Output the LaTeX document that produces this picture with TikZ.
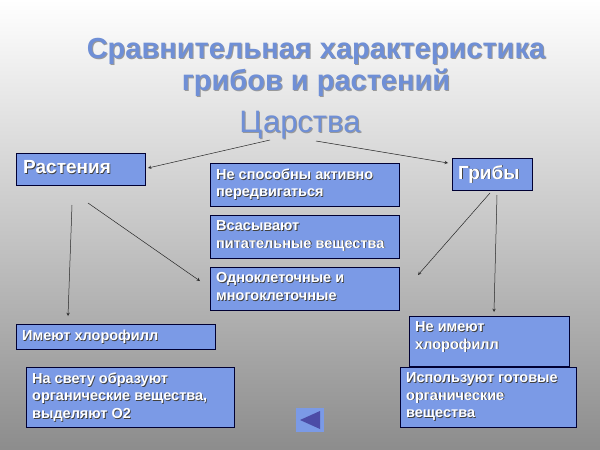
\documentclass[tikz,border=0pt]{standalone}
\usepackage{fontspec}
\setmainfont{Liberation Sans}
\begin{document}
\begin{tikzpicture}[x=1pt,y=-1pt,
  box/.style={draw=black!80!blue,line width=0.8pt,fill=boxc},
  arr/.style={-stealth,line width=0.5pt,black!85},
  ttl/.style={text=titc,font=\bfseries\fontsize{29}{32}\selectfont,align=center}]
\definecolor{boxc}{HTML}{7B9AE6}
\definecolor{titc}{HTML}{6F8FD6}
\useasboundingbox (0,0) rectangle (600,450);
\shade[top color=white,bottom color=black!45,middle color=black!22] (0,0) rectangle (600,450);
\newcommand{\bx}[6]{%
  \draw[box] (#2,#3) rectangle (#4,#5);
  \node[anchor=north west,inner sep=0pt,align=left,font=\bfseries\fontsize{14.5}{17.5}\selectfont,text=black!75] at (#2+6.8,#3+6.3) {#6};
  \node[anchor=north west,inner sep=0pt,align=left,font=\bfseries\fontsize{14.5}{17.5}\selectfont,text=white] (#1) at (#2+6,#3+5.5) {#6};}
% title
\node[ttl,text=black!40] at (317,68) {Сравнительная характеристика\\грибов и растений};
\node[ttl] (title) at (316,67) {Сравнительная характеристика\\грибов и растений};
\node[text=black!40,font=\fontsize{31}{33}\selectfont] at (301,126) {Царства};
\node[text=titc,font=\fontsize{31}{33}\selectfont] (car) at (300,125) {Царства};
% boxes
\draw[box] (16,153) rectangle (145,185);
\node[anchor=north west,inner sep=0pt,font=\bfseries\fontsize{19}{21}\selectfont,text=black!75] at (23.8,160.8) {Растения};
\node[anchor=north west,inner sep=0pt,font=\bfseries\fontsize{19}{21}\selectfont,text=white] (rast) at (23,160) {Растения};
\draw[box] (452,158) rectangle (532,190);
\node[anchor=north west,inner sep=0pt,font=\bfseries\fontsize{19}{21}\selectfont,text=black!75] at (458.8,165.8) {Грибы};
\node[anchor=north west,inner sep=0pt,font=\bfseries\fontsize{19}{21}\selectfont,text=white] (grib) at (458,165) {Грибы};
\bx{a}{210}{163}{399}{206}{Не способны активно\\передвигаться}
\bx{b}{210}{215}{399}{258}{Всасывают\\питательные вещества}
\bx{c}{210}{267}{399}{310}{Одноклеточные и\\многоклеточные}
\bx{d}{16}{324}{215}{349}{Имеют хлорофилл}
\bx{e}{409}{316}{569}{366}{Не имеют\\хлорофилл}
\bx{f}{26}{367}{234}{427}{На свету образуют\\органические вещества,\\выделяют О2}
\bx{g}{400}{367}{576}{427}{Используют готовые\\органические\\вещества}
% button
\fill[boxc] (296,408) rectangle (324,432);
\fill[blue!50!black!70] (300,420) -- (320,411) -- (320,429) -- cycle;
% arrows
\coordinate (c1) at (270,140); \coordinate (c2) at (316,141);
\coordinate (r1) at (72,205); \coordinate (r2) at (88,203);
\coordinate (g1) at (490,193); \coordinate (g2) at (497,195);
\draw[arr] (c1) -- (148,168);
\draw[arr] (c2) -- (448,163);
\draw[arr] (r1) -- (68,316);
\draw[arr] (r2) -- (200,281);
\draw[arr] (g1) -- (418,275);
\draw[arr] (g2) -- (494,312);
\end{tikzpicture}
\end{document}
